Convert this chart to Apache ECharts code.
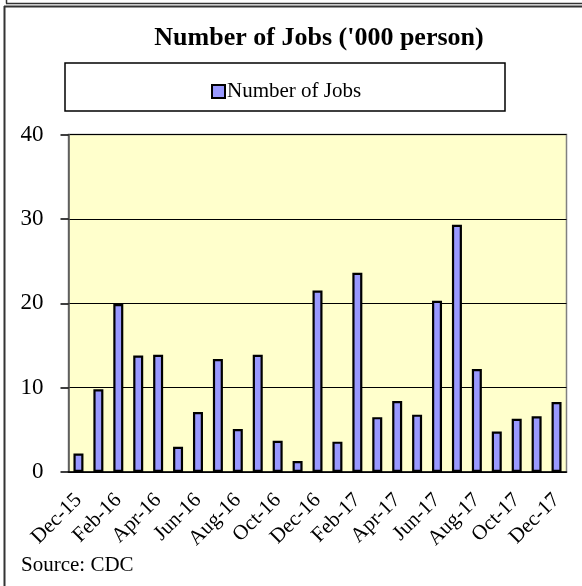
<!DOCTYPE html>
<html>
<head>
<meta charset="utf-8">
<script src="https://cdn.jsdelivr.net/npm/echarts@6/dist/echarts.min.js"></script>
<style>
html,body{margin:0;padding:0;background:#fff;}
#chart{width:582px;height:586px;}
</style>
</head>
<body>
<div id="chart"></div>
<script>
var categories = ['Dec-15','Jan-16','Feb-16','Mar-16','Apr-16','May-16','Jun-16','Jul-16','Aug-16','Sep-16','Oct-16','Nov-16','Dec-16','Jan-17','Feb-17','Mar-17','Apr-17','May-17','Jun-17','Jul-17','Aug-17','Sep-17','Oct-17','Nov-17','Dec-17'];
var jobs = [2.2, 9.8, 19.9, 13.8, 13.9, 3.0, 7.1, 13.4, 5.1, 13.9, 3.7, 1.3, 21.5, 3.6, 23.6, 6.5, 8.4, 6.8, 20.3, 29.3, 12.2, 4.8, 6.3, 6.6, 8.3];
var yTicks = [0, 10, 20, 30, 40];
var titleText = "Number of Jobs ('000 person)";
var seriesName = 'Number of Jobs';
var sourceText = 'Source: CDC';

var FONT = '"Liberation Serif", "Times New Roman", serif';
var chart = echarts.init(document.getElementById('chart'), null, {renderer: 'canvas'});
chart.setOption({
  animation: false,
  backgroundColor: '#ffffff',
  title: {
    text: titleText,
    left: 314, top: 20, textAlign: 'center',
    textStyle: {fontFamily: FONT, fontSize: 26, fontWeight: 'bold', color: '#000'}
  },
  legend: {
    data: [seriesName],
    left: 206, top: 76,
    icon: 'rect', itemWidth: 13, itemHeight: 13,
    textStyle: {fontFamily: FONT, fontSize: 21, color: '#000', padding: [0, 0, 0, -3]},
    itemStyle: {borderColor: '#000', borderWidth: 2}
  },
  graphic: [
    {type: 'line', shape: {x1: 6.5, y1: 0, x2: 6.5, y2: 3.5}, style: {stroke: '#333', lineWidth: 1.5}},
    {type: 'line', shape: {x1: 6, y1: 3.5, x2: 582, y2: 3.5}, style: {stroke: '#333', lineWidth: 1.5}},
    {type: 'line', shape: {x1: 4.5, y1: 6, x2: 4.5, y2: 586}, style: {stroke: '#333', lineWidth: 2}},
    {type: 'line', shape: {x1: 4, y1: 6.5, x2: 582, y2: 6.5}, style: {stroke: '#333', lineWidth: 2}},
    {type: 'rect', shape: {x: 65, y: 63, width: 440, height: 48}, style: {fill: 'none', stroke: '#000', lineWidth: 1.5}, z: -1},
    {type: 'rect', shape: {x: 68.5, y: 134.5, width: 498, height: 337.5}, style: {fill: '#FFFFCC', stroke: '#808080', lineWidth: 1.5}, z: -10},
    {type: 'text', left: 21, top: 555, style: {text: sourceText, fontFamily: FONT, fontSize: 21, fill: '#000'}}
  ],
  grid: {left: 68.5, right: 15.5, top: 134.5, bottom: 114, containLabel: false},
  xAxis: {
    type: 'category',
    data: categories,
    boundaryGap: true,
    axisLine: {lineStyle: {color: '#000', width: 1.5}},
    axisTick: {interval: 1, length: 6, lineStyle: {color: '#000', width: 1.5}},
    axisLabel: {interval: 1, rotate: 45, margin: 25, fontFamily: FONT, fontSize: 21, color: '#000'}
  },
  yAxis: {
    type: 'value',
    min: yTicks[0], max: yTicks[yTicks.length - 1], interval: 10,
    axisLine: {show: true, lineStyle: {color: '#555', width: 1.5}},
    axisTick: {show: true, length: 8, lineStyle: {color: '#000', width: 1.5}},
    axisLabel: {margin: 25, fontFamily: FONT, fontSize: 23, color: '#000'},
    splitLine: {lineStyle: {color: '#000', width: 1}}
  },
  series: [{
    name: seriesName,
    type: 'bar',
    data: jobs,
    barWidth: 10,
    itemStyle: {color: '#9999FF', borderColor: '#000', borderWidth: 2.2}
  }]
});
</script>
</body>
</html>
